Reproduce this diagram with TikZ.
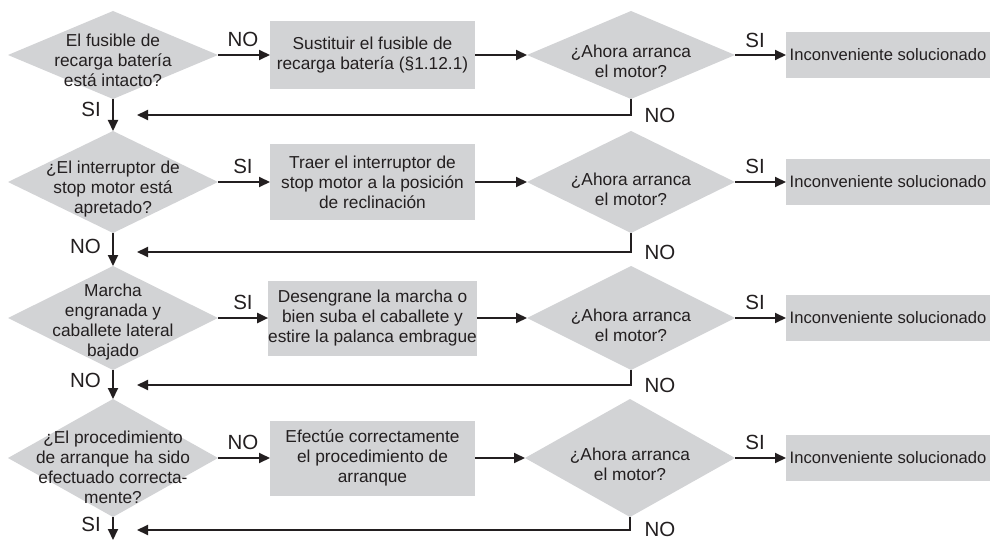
\documentclass[tikz,border=0pt]{standalone}
\usepackage{fontspec}
\setmainfont{Liberation Sans}
\usetikzlibrary{shapes.geometric,arrows.meta}
\definecolor{fillgray}{RGB}{210,211,213}
\definecolor{ink}{RGB}{35,31,32}
\begin{document}
\begin{tikzpicture}[x=1pt,y=-1pt,
  every node/.style={text=ink},
  dia/.style={shape=diamond, fill=fillgray, inner sep=0pt, outer sep=0pt},
  dtext/.style={align=center, font=\fontsize{17.3}{20}\selectfont, inner sep=0pt},
  stepbox/.style={fill=fillgray, inner sep=0pt, outer sep=0pt, minimum width=205pt, align=center, font=\fontsize{17.3}{20}\selectfont},
  endbox/.style={fill=fillgray, inner sep=0pt, outer sep=0pt, minimum width=204pt, minimum height=46pt, font=\fontsize{16.6}{20}\selectfont},
  lbl/.style={font=\fontsize{20.5}{22}\selectfont, inner sep=0pt},
  arr/.style={draw=ink, line width=2pt, -{Triangle[length=11pt,width=10pt]}},
]
\useasboundingbox (0,0) rectangle (990,540);

% ---------- Row 1 (y=55) ----------
\node[dia, minimum width=210pt, minimum height=88pt] (L1) at (113,55) {};
\node[dtext] (L1t) at (113,60) {El fusible de\\recarga batería\\está intacto?};
\node[stepbox, minimum height=68pt] (B1) at (372.5,55) {Sustituir el fusible de\\recarga batería (§1.12.1)};
\node[dia, minimum width=208pt, minimum height=88pt] (R1) at (631,55) {};
\node[dtext] (R1t) at (631,61) {¿Ahora arranca\\el motor?};
\node[endbox] (F1) at (888,55) {Inconveniente solucionado};

% ---------- Row 2 (y=182) ----------
\node[dia, minimum width=210pt, minimum height=102pt] (L2) at (113,182) {};
\node[dtext] (L2t) at (113,189) {¿El interruptor de\\stop motor está\\apretado?};
\node[stepbox, minimum height=76pt] (B2) at (372.5,182) {Traer el interruptor de\\stop motor a la posición\\de reclinación};
\node[dia, minimum width=208pt, minimum height=102pt] (R2) at (631,182) {};
\node[dtext] (R2t) at (631,189) {¿Ahora arranca\\el motor?};
\node[endbox] (F2) at (888,182) {Inconveniente solucionado};

% ---------- Row 3 (y=318) ----------
\node[dia, minimum width=210pt, minimum height=104pt] (L3) at (113,318) {};
\node[dtext] (L3t) at (113,322) {Marcha\\engranada y\\caballete lateral\\bajado};
\node[stepbox, minimum height=75pt] (B3) at (372.5,318) {Desengrane la marcha o\\bien suba el caballete y\\estire la palanca embrague};
\node[dia, minimum width=208pt, minimum height=104pt] (R3) at (631,318) {};
\node[dtext] (R3t) at (631,325) {¿Ahora arranca\\el motor?};
\node[endbox] (F3) at (888,318) {Inconveniente solucionado};

% ---------- Row 4 (y=458) ----------
\node[dia, minimum width=210pt, minimum height=118pt] (L4) at (113,458) {};
\node[dtext] (L4t) at (113,467) {¿El procedimiento\\de arranque ha sido\\efectuado correcta-\\mente?};
\node[stepbox, minimum height=75pt] (B4) at (372.5,458) {Efectúe correctamente\\el procedimiento de\\arranque};
\node[dia, minimum width=210pt, minimum height=118pt] (R4) at (630,458) {};
\node[dtext] (R4t) at (630,464) {¿Ahora arranca\\el motor?};
\node[endbox] (F4) at (888,458) {Inconveniente solucionado};

% ---------- return-line ends ----------
\coordinate (c1) at (137,115);
\coordinate (c2) at (137,252);
\coordinate (c3) at (137,385);
\coordinate (c4) at (137,530);
\coordinate (cend) at (113,540);

% ---------- connectors ----------
\foreach \i in {1,2,3,4}{
  \draw[arr] (L\i.east) -- (B\i.west);
  \draw[arr] (B\i.east) -- (R\i.west);
  \draw[arr] (R\i.east) -- (F\i.west);
  \draw[arr] (R\i.south) |- (c\i);
}
\draw[arr] (L1.south) -- (L2.north);
\draw[arr] (L2.south) -- (L3.north);
\draw[arr] (L3.south) -- (L4.north);
\draw[arr] (L4.south) -- (cend);

% ---------- labels ----------
\node[lbl] (h1) at (243,39) {NO};
\node[lbl] (h2) at (243,166) {SI};
\node[lbl] (h3) at (243,302) {SI};
\node[lbl] (h4) at (243,442) {NO};

\node[lbl] (s1) at (755,40) {SI};
\node[lbl] (s2) at (755,166) {SI};
\node[lbl] (s3) at (755,302) {SI};
\node[lbl] (s4) at (755,442) {SI};

\node[lbl, anchor=east] (v1) at (101,109) {SI};
\node[lbl, anchor=east] (v2) at (101,246) {NO};
\node[lbl, anchor=east] (v3) at (101,380) {NO};
\node[lbl, anchor=east] (v4) at (101,524) {SI};

\node[lbl] (n1) at (660,115) {NO};
\node[lbl] (n2) at (660,252) {NO};
\node[lbl] (n3) at (660,385) {NO};
\node[lbl] (n4) at (660,529) {NO};
\end{tikzpicture}
\end{document}
